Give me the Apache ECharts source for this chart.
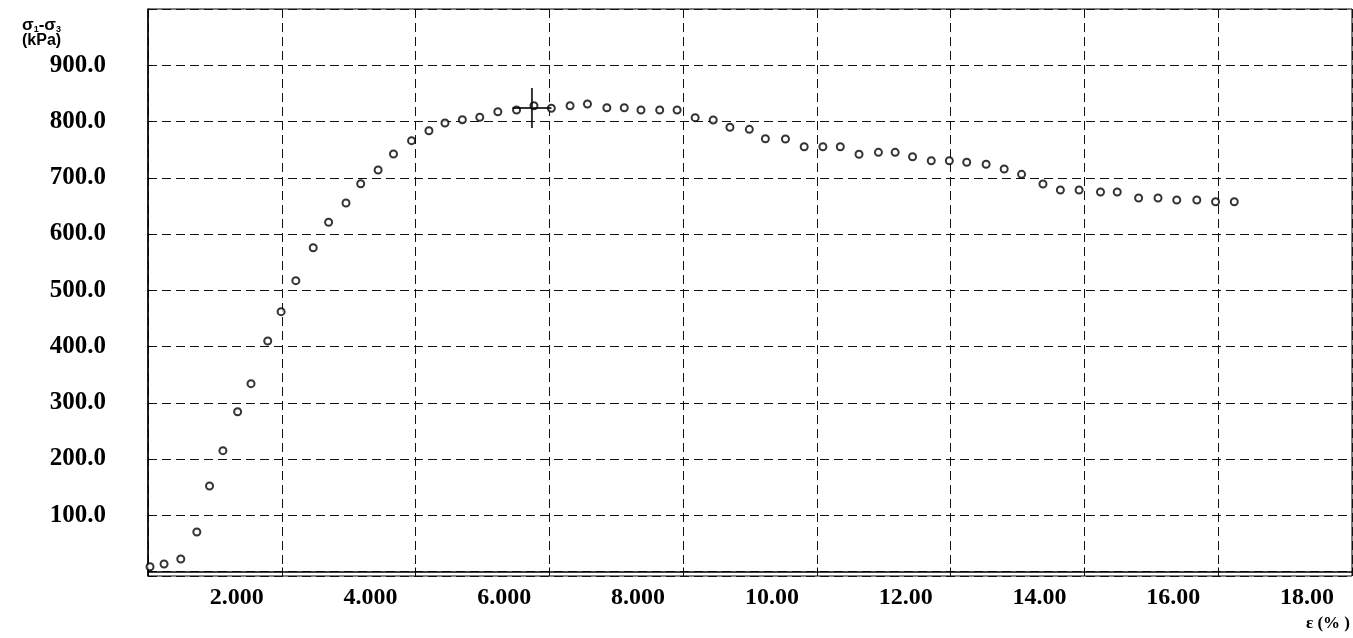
<!DOCTYPE html>
<html>
<head>
<meta charset="utf-8">
<script src="https://cdn.jsdelivr.net/npm/echarts@6/dist/echarts.min.js"></script>
<style>
html,body{margin:0;padding:0;background:#fff;}
#chart{width:1353px;height:638px;}
</style>
</head>
<body>
<div id="chart"></div>
<script>
// Axial strain ε (%)
const strain = [
  0.03, 0.24, 0.49, 0.73, 0.92, 1.12, 1.34, 1.54, 1.79, 1.99,
  2.21, 2.47, 2.70, 2.96, 3.18, 3.44, 3.67, 3.94, 4.20, 4.44,
  4.70, 4.96, 5.23, 5.51, 5.77, 6.03, 6.31, 6.57, 6.86, 7.12,
  7.37, 7.65, 7.91, 8.18, 8.45, 8.70, 8.99, 9.23, 9.53, 9.81,
  10.09, 10.35, 10.63, 10.92, 11.17, 11.43, 11.71, 11.98, 12.24, 12.53,
  12.80, 13.06, 13.38, 13.64, 13.92, 14.24, 14.49, 14.81, 15.10, 15.38,
  15.68, 15.96, 16.24
];
// Deviator stress σ1-σ3 (kPa)
const deviatorStress = [
  8.5, 13.3, 22.2, 70.2, 152.0, 214.8, 284.1, 333.9, 409.8, 461.9,
  517.0, 575.6, 620.8, 655.1, 689.4, 713.8, 742.2, 765.9, 783.6, 797.3,
  803.2, 807.5, 817.4, 820.4, 828.1, 823.5, 828.1, 831.1, 824.5, 824.5,
  820.4, 820.4, 820.4, 806.8, 802.7, 789.7, 786.1, 769.4, 768.9, 755.2,
  755.2, 755.2, 741.7, 745.2, 745.2, 737.4, 730.3, 730.3, 727.5, 723.9,
  715.6, 706.1, 688.9, 678.2, 678.2, 674.7, 674.7, 664.0, 664.0, 660.4,
  660.4, 657.4, 657.4
];
// Crosshair marker (strain, stress)
const peakMarker = [5.74, 824];

const xRange = [0, 18];
const xStep = 2;
const yRange = [-8, 1000];

const points = strain.map((s, i) => [s, deviatorStress[i]]);

const chart = echarts.init(document.getElementById('chart'), null, {renderer: 'canvas'});
const dash = [9, 5];
chart.setOption({
  animation: false,
  backgroundColor: '#fff',
  title: [
    {
      text: '{s|σ}{b|1}{s|-σ}{b|3}\n{k|(kPa)}',
      left: 22, top: 16, padding: 0,
      textStyle: {
        rich: {
          s: {fontFamily: 'Liberation Sans', fontSize: 17, lineHeight: 18, color: '#000'},
          b: {fontFamily: 'Liberation Sans', fontSize: 9, lineHeight: 7, verticalAlign: 'bottom', color: '#000'},
          k: {fontFamily: 'Liberation Sans', fontSize: 16, lineHeight: 14, color: '#000'}
        }
      }
    },
    {
      text: 'ε (% )',
      right: 3, top: 615, padding: 0,
      textStyle: {fontFamily: 'Liberation Serif', fontWeight: 'bold', fontSize: 17, color: '#000'}
    }
  ],
  grid: {
    left: 148, right: 1, top: 9, bottom: 62,
    show: true, borderColor: '#000', borderWidth: 1, backgroundColor: 'transparent'
  },
  xAxis: {
    type: 'value',
    min: xRange[0], max: xRange[1], interval: xStep,
    axisLine: {show: true, lineStyle: {color: '#000', width: 1.5}},
    axisTick: {show: true, inside: true, length: 4, lineStyle: {color: '#000'}},
    axisLabel: {
      show: true,
      margin: 10,
      align: 'right',
      verticalAlign: 'top',
      padding: [0, 18, 0, 0],
      fontFamily: 'Liberation Serif', fontWeight: 'bold', fontSize: 24, color: '#000',
      formatter: v => (v <= 0 ? '' : Number(v).toPrecision(4))
    },
    splitLine: {show: true, lineStyle: {color: '#111', width: 1, type: dash}}
  },
  yAxis: {
    type: 'value',
    min: yRange[0], max: yRange[1], splitNumber: 10,
    axisLine: {show: true, lineStyle: {color: '#000', width: 1.5}},
    axisTick: {show: true, inside: true, length: 5, lineStyle: {color: '#000'}},
    axisLabel: {
      show: true,
      margin: 42,
      verticalAlign: 'middle',
      padding: [16, 0, 0, 0],
      fontFamily: 'Liberation Serif', fontWeight: 'bold', fontSize: 25, color: '#000',
      formatter: v => (v <= 0 || v >= 1000 ? '' : Number(v).toFixed(1))
    },
    splitLine: {show: true, lineStyle: {color: '#111', width: 1, type: dash}}
  },
  series: [
    {
      type: 'scatter',
      data: points,
      symbol: 'circle',
      symbolSize: 7,
      itemStyle: {color: '#fff', borderColor: '#000', borderWidth: 2},
      z: 3
    },
    {
      type: 'scatter',
      data: [peakMarker],
      symbol: 'path://M0,20L40,20M20,0L20,40',
      symbolSize: [39, 40],
      itemStyle: {color: 'none', borderColor: '#000', borderWidth: 2},
      z: 4
    }
  ]
});
</script>
</body>
</html>
